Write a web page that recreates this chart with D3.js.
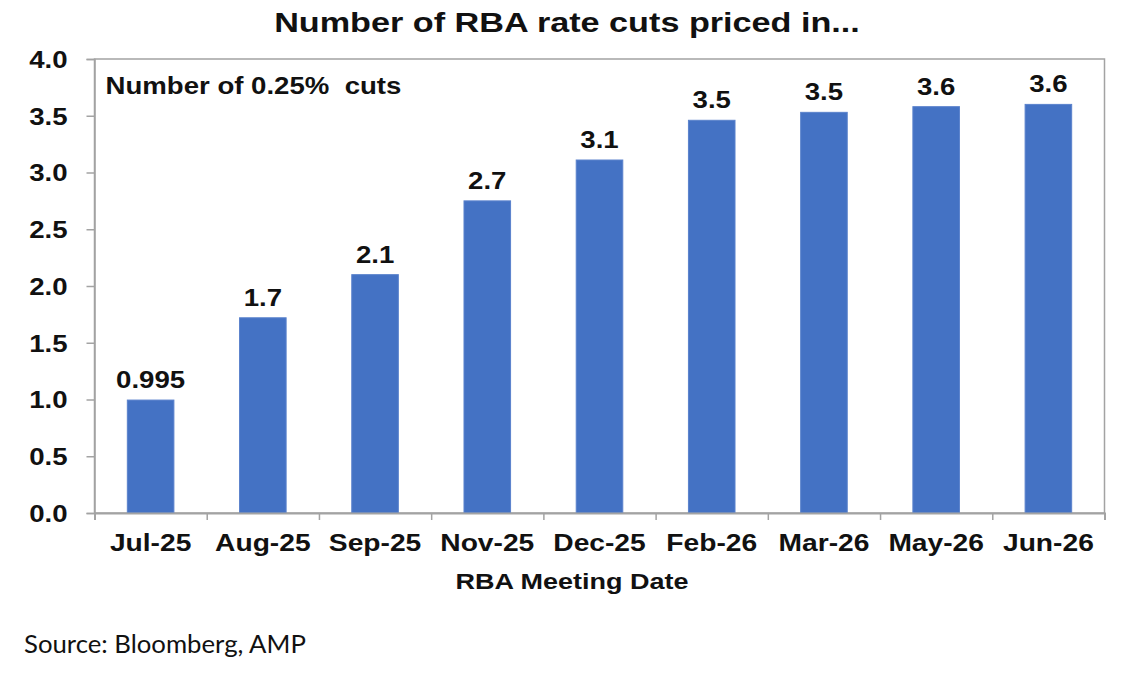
<!DOCTYPE html>
<html>
<head>
<meta charset="utf-8">
<script src="https://cdn.jsdelivr.net/npm/d3@7"></script>
<style>
    body { margin: 0; background: #fff; }
    svg { display: block; font-family: "Liberation Sans", Arial, sans-serif; }
    .bold { font-weight: bold; fill: #111; }
</style>
</head>
<body>
<svg id="chart"></svg>
<script>
// Chart data
const meetings = ['Jul-25', 'Aug-25', 'Sep-25', 'Nov-25', 'Dec-25', 'Feb-26', 'Mar-26', 'May-26', 'Jun-26'];
const cutsPriced = [0.995, 1.72, 2.10, 2.75, 3.11, 3.46, 3.53, 3.58, 3.60];
const cutLabels = ['0.995', '1.7', '2.1', '2.7', '3.1', '3.5', '3.5', '3.6', '3.6'];
const yTicks = [0, 0.5, 1, 1.5, 2, 2.5, 3, 3.5, 4];

// The reference text is a bit wider than plain Arial, so stretch it horizontally
const STRETCH = 1.2;

const config = {
    containerWidth: 1140,
    containerHeight: 680,
    margin: {top: 59, right: 35.5, bottom: 167, left: 94.5}
};

const width = config.containerWidth - config.margin.left - config.margin.right;
const height = config.containerHeight - config.margin.top - config.margin.bottom;

const svg = d3.select('#chart')
    .attr('width', config.containerWidth)
    .attr('height', config.containerHeight);

const chart = svg.append('g')
    .attr('transform', `translate(${config.margin.left},${config.margin.top})`);

// helper: stretched text at x,y
function addText(parent, x, y, str, size, anchor) {
    return parent.append('text')
        .attr('class', 'bold')
        .attr('transform', `translate(${x},${y}) scale(${STRETCH},1)`)
        .attr('text-anchor', anchor || 'start')
        .style('font-size', size + 'px')
        .text(str);
}

// Scales
const xScale = d3.scaleBand()
    .domain(meetings)
    .range([0, width])
    .paddingInner(0)
    .paddingOuter(0);

const yScale = d3.scaleLinear()
    .domain([0, 4])
    .range([height, 0]);

// index scale, used for the ticks between categories
const xEdge = d3.scaleLinear()
    .domain([0, meetings.length])
    .range([0, width]);

const axisColor = '#a3a3a3';

// Plot border (top and right sides show as a frame)
chart.append('rect')
    .attr('x', 0)
    .attr('y', 0)
    .attr('width', width)
    .attr('height', height)
    .attr('fill', 'none')
    .attr('stroke', axisColor)
    .attr('stroke-width', 1.5);

// Bars
const barW = xScale.bandwidth() * 0.415;
chart.selectAll('.bar')
    .data(cutsPriced)
    .join('rect')
    .attr('class', 'bar')
    .attr('x', (d, i) => xScale(meetings[i]) + (xScale.bandwidth() - barW) / 2)
    .attr('width', barW)
    .attr('y', d => yScale(d))
    .attr('height', d => height - yScale(d))
    .attr('fill', '#4472c4')
    .attr('stroke', '#5a82cc')
    .attr('stroke-width', 1);

// Value labels above bars
cutsPriced.forEach((d, i) => {
    addText(chart, xScale(meetings[i]) + xScale.bandwidth() / 2, yScale(d) - 12, cutLabels[i], 23, 'middle');
});

// Y axis
const yAxis = d3.axisLeft(yScale)
    .tickValues(yTicks)
    .tickFormat(d3.format('.1f'))
    .tickSizeOuter(0)
    .tickSize(8);

const yAxisG = chart.append('g').attr('class', 'axis y-axis').call(yAxis);
yAxisG.select('.domain').attr('stroke', axisColor).attr('stroke-width', 1.5);
yAxisG.selectAll('.tick line').attr('stroke', axisColor).attr('stroke-width', 1.5);
yAxisG.selectAll('.tick text')
    .attr('x', 0)
    .attr('dy', '0.36em')
    .attr('class', 'bold')
    .attr('transform', `translate(-27,0) scale(${STRETCH},1)`)
    .style('font-size', '23px')
    .attr('fill', '#111');

// X axis: ticks sit on the category edges
const xTickAxis = d3.axisBottom(xEdge)
    .tickValues(d3.range(meetings.length + 1))
    .tickFormat('')
    .tickSizeOuter(0)
    .tickSize(7);

const xTickG = chart.append('g')
    .attr('class', 'axis x-axis')
    .attr('transform', `translate(0,${height})`)
    .call(xTickAxis);
xTickG.select('.domain').attr('stroke', axisColor).attr('stroke-width', 2);
xTickG.selectAll('.tick line').attr('stroke', axisColor).attr('stroke-width', 1.5);

// X labels centred on the bands
const xLabelAxis = d3.axisBottom(xScale).tickSize(0);
const xLabelG = chart.append('g')
    .attr('transform', `translate(0,${height})`)
    .call(xLabelAxis);
xLabelG.select('.domain').remove();
xLabelG.selectAll('.tick text')
    .attr('y', 0)
    .attr('dy', 0)
    .attr('class', 'bold')
    .attr('transform', `translate(0,38) scale(${STRETCH},1)`)
    .style('font-size', '23.5px')
    .attr('fill', '#111');

// Inner note
addText(chart, 11, 35, 'Number of 0.25%  cuts', 23, 'start').style('white-space', 'pre');

// Header
addText(svg, 567, 32, 'Number of RBA rate cuts priced in...', 28.5, 'middle');

// x axis title
addText(svg, 572, 589, 'RBA Meeting Date', 22.5, 'middle');

// Source
svg.append('text')
    .attr('transform', `translate(24,653) scale(1.03,1)`)
    .style('font-family', 'Lato, "Open Sans", sans-serif')
    .style('font-size', '25px')
    .attr('fill', '#111')
    .text('Source: Bloomberg, AMP');
</script>
</body>
</html>
